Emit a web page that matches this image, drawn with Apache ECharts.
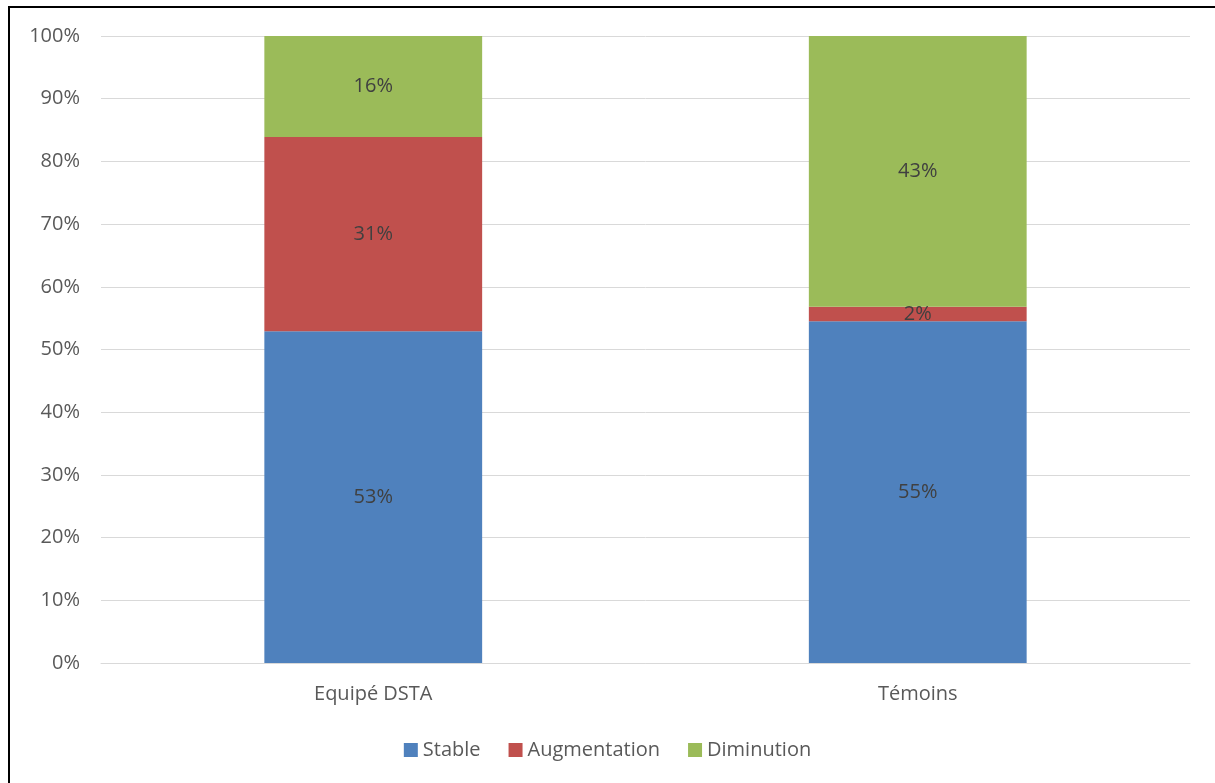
<!DOCTYPE html>
<html><head><meta charset="utf-8">
<script src="https://cdn.jsdelivr.net/npm/echarts@6/dist/echarts.min.js"></script>
<style>
html,body{margin:0;padding:0;background:#fff;}
#frame{position:absolute;left:8px;top:6px;width:1215px;height:800px;border-left:2px solid #000;border-top:2px solid #000;box-sizing:border-box;}
#c{position:absolute;left:0;top:0;width:1215px;height:783px;}
</style></head>
<body>
<div id="frame"></div>
<div id="c"></div>
<script>
const categories = ['Equipé DSTA', 'Témoins'];
const stable = [52.9, 54.5];
const augmentation = [31.0, 2.3];
const diminution = [16.1, 43.2];
const seriesNames = ['Stable', 'Augmentation', 'Diminution'];
const colors = ['#4F81BD', '#C0504D', '#9BBB59'];
const font = '"Open Sans", Lato, sans-serif';

const chart = echarts.init(document.getElementById('c'), null, {renderer: 'canvas'});
function mk(name, data, color) {
  return {
    name, type: 'bar', stack: 'a', data, barWidth: '40%',
    itemStyle: {color},
    label: {show: true, position: 'inside', color: '#404040', fontSize: 20, fontFamily: font,
      formatter: p => Math.round(p.value) + '%'}
  };
}
chart.setOption({
  animation: false,
  color: colors,
  grid: {left: 101, right: 25, top: 36, bottom: 120, containLabel: false},
  legend: {bottom: 18, left: 'center', itemWidth: 14, itemHeight: 14, itemGap: 28,
    icon: 'rect', textStyle: {fontSize: 20, color: '#595959', fontFamily: font},
    data: seriesNames},
  xAxis: {type: 'category', data: categories,
    axisLine: {lineStyle: {color: '#D9D9D9', width: 1}}, axisTick: {show: false},
    axisLabel: {fontSize: 20, color: '#595959', fontFamily: font, margin: 21}},
  yAxis: {type: 'value', min: 0, max: 100, interval: 10,
    axisLabel: {formatter: '{value}%', fontSize: 20, color: '#595959', fontFamily: font, margin: 21},
    splitLine: {lineStyle: {color: '#D9D9D9', width: 1}},
    axisLine: {show: false}, axisTick: {show: false}},
  series: [mk(seriesNames[0], stable, colors[0]), mk(seriesNames[1], augmentation, colors[1]), mk(seriesNames[2], diminution, colors[2])]
});
</script>
</body></html>
